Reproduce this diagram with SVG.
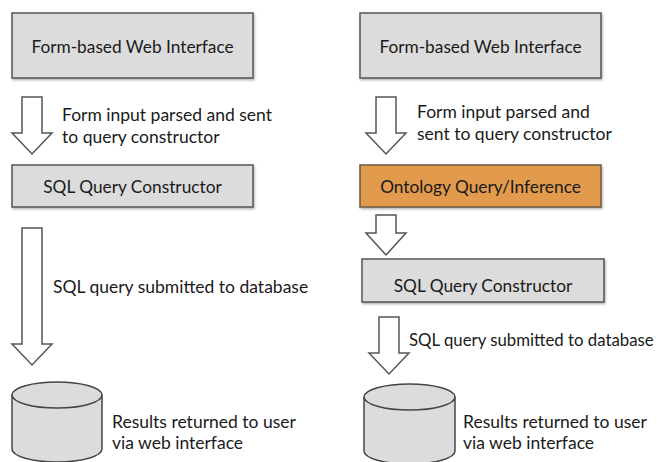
<svg xmlns="http://www.w3.org/2000/svg" width="665" height="462" viewBox="0 0 665 462">
<defs>
<style>
.box{fill:#dcdcdc;stroke:#555;stroke-width:1.5}
.onto{fill:#e29b4d;stroke:#6b5a45;stroke-width:1.5}
.arrow{fill:#fff;stroke:#555;stroke-width:1.5;stroke-linejoin:miter}
.db{fill:#dcdcdc;stroke:#444;stroke-width:1.5}
text{font-family:Lato,"Open Sans",sans-serif;font-size:17.5px;fill:#1a1a1a}
.c{text-anchor:middle;font-size:17.3px}
.s{font-size:16.8px}
</style>
<filter id="sh" x="-5%" y="-5%" width="110%" height="120%"><feDropShadow dx="1" dy="1.5" stdDeviation="1" flood-color="#000" flood-opacity="0.3"/></filter>
</defs>
<rect width="665" height="462" fill="#fff"/>
<g id="connectors">
<path class="arrow" d="M22,97 H42 V133 H52 L32,154 L12,133 H22 Z"/>
<path class="arrow" d="M22,228 H42 V344 H52 L32,365 L12,344 H22 Z"/>
<path class="arrow" d="M376,97 H396 V133 H406 L386,154 L366,133 H376 Z"/>
<path class="arrow" d="M376,215 H396 V233 H406 L386,255 L366,233 H376 Z"/>
<path class="arrow" d="M379,317 H399 V353 H409 L389,374 L369,353 H379 Z"/>
</g>
<g id="left-web">
<rect class="box" filter="url(#sh)" x="12" y="13" width="241" height="65"/>
<text class="c" x="132.5" y="53">Form-based Web Interface</text>
</g>
<g id="left-label1">
<text x="62" y="121">Form input parsed and sent</text>
<text x="62" y="143">to query constructor</text>
</g>
<g id="left-sql">
<rect class="box" filter="url(#sh)" x="12" y="165" width="241" height="42"/>
<text class="c" x="132.5" y="193">SQL Query Constructor</text>
</g>
<g id="left-label2">
<text x="53" y="293">SQL query submitted to database</text>
</g>
<g id="left-db">
<path class="db" d="M12,395 V449 A45,13 0 0 0 102,449 V395"/>
<ellipse class="db" cx="57" cy="395" rx="45" ry="13"/>
<text x="112" y="428">Results returned to user</text>
<text x="112" y="449">via web interface</text>
</g>
<g id="right-web">
<rect class="box" filter="url(#sh)" x="360" y="13" width="241" height="65"/>
<text class="c" x="480.5" y="53">Form-based Web Interface</text>
</g>
<g id="right-label1">
<text x="417" y="118">Form input parsed and</text>
<text x="417" y="140">sent to query constructor</text>
</g>
<g id="right-onto">
<rect class="onto" filter="url(#sh)" x="360" y="165" width="241" height="42"/>
<text class="c" x="480.5" y="193">Ontology Query/Inference</text>
</g>
<g id="right-sql">
<rect class="box" filter="url(#sh)" x="362" y="259" width="242" height="43"/>
<text class="c" x="483" y="292">SQL Query Constructor</text>
</g>
<g id="right-label2">
<text class="s" x="409" y="346">SQL query submitted to database</text>
</g>
<g id="right-db">
<path class="db" d="M364,397 V451 A45.5,13 0 0 0 455,451 V397"/>
<ellipse class="db" cx="409.5" cy="397" rx="45.5" ry="13"/>
<text x="463" y="428">Results returned to user</text>
<text x="463" y="449">via web interface</text>
</g>
</svg>
